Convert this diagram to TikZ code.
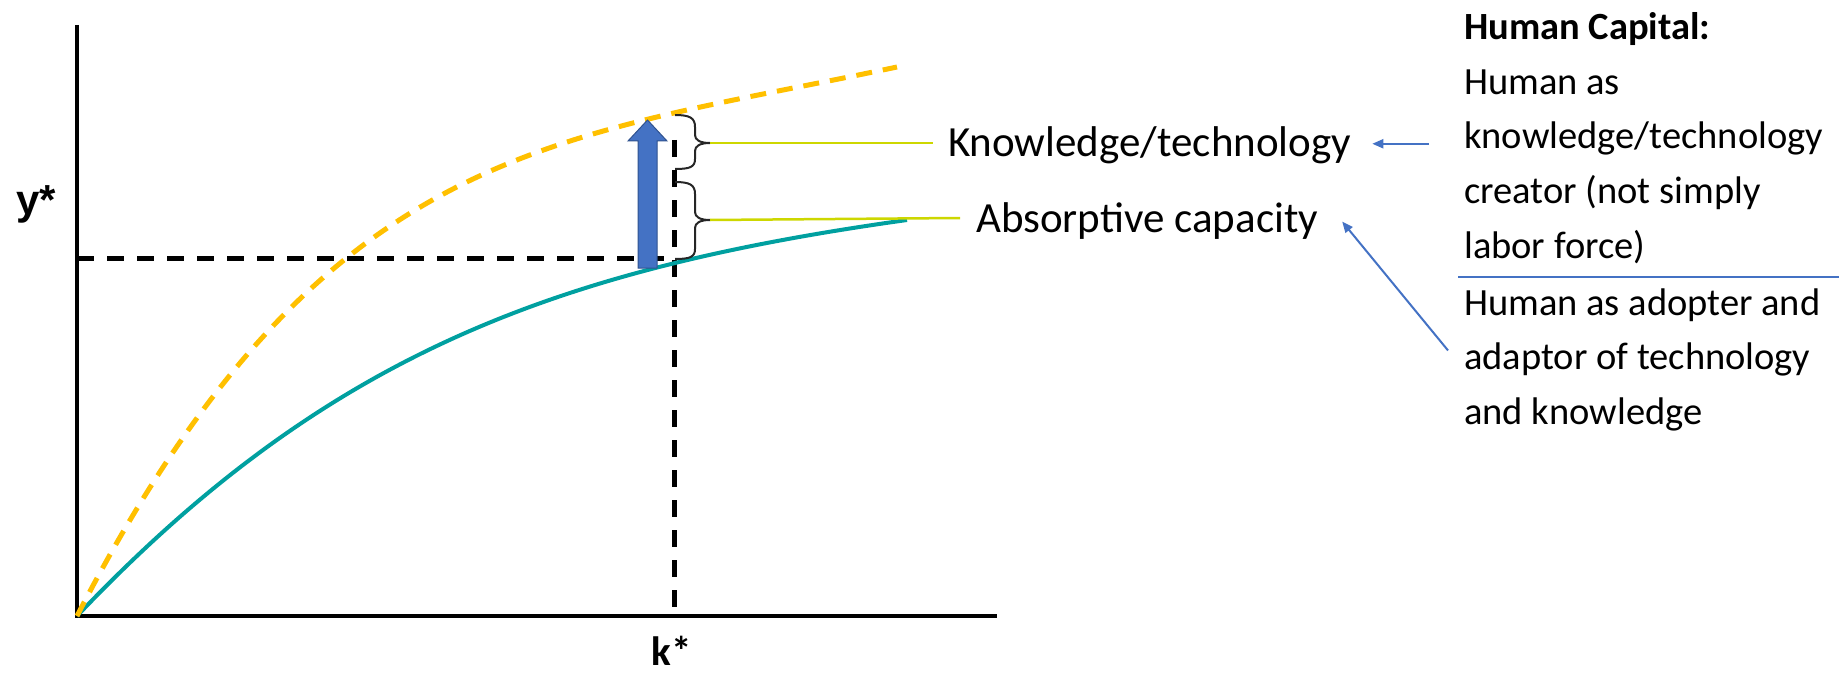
\documentclass[tikz,border=0pt]{standalone}
\usepackage{fontspec}
\setmainfont{Carlito}
\newfontfamily\lsans{Liberation Sans}
\usetikzlibrary{calc,arrows.meta}
\definecolor{tealcurve}{RGB}{0,160,160}
\definecolor{orangecurve}{RGB}{255,192,0}
\definecolor{blueac}{RGB}{68,114,196}
\definecolor{bluedark}{RGB}{47,82,143}
\definecolor{limeline}{RGB}{205,215,0}
\begin{document}
\begin{tikzpicture}[x=1pt,y=-1pt,
  axisline/.style={line width=4.5pt, black, line join=miter},
  guide/.style={line width=5pt, black, dash pattern=on 17pt off 13pt},
  basecurve/.style={line width=4pt, tealcurve},
  newcurve/.style={line width=5pt, orangecurve, dash pattern=on 16pt off 11pt},
  bracestyle/.style={line width=2pt, black!85},
  leader/.style={line width=2.5pt, limeline},
  thinarr/.style={line width=2pt, blueac, -{Triangle[length=11pt,width=9pt]}},
  blockarr/.style={fill=blueac, draw=bluedark, line width=1pt},
  midlabel/.style={font=\fontsize{43}{52}\selectfont, inner sep=0pt, anchor=base west},
  hclabel/.style={font=\fontsize{38.5}{46}\selectfont, inner sep=0pt, anchor=base west},
  axlabel/.style={inner sep=0pt, anchor=base}
]
\useasboundingbox (0,0) rectangle (1847,674);

% axes
\coordinate (ytop) at (77,25);
\coordinate (O) at (77,616);
\coordinate (xend) at (997,616);
\draw[axisline] (ytop) -- (O) -- (xend);

% equilibrium guides
\coordinate (yeq) at (77,258);
\coordinate (eq) at (672,258);
\coordinate (vtop) at (674,140);
\coordinate (kbase) at (674,616);
\draw[guide] (yeq) -- (eq);
\draw[guide] (vtop) -- (kbase);

% curves
\coordinate (tealend) at (907,220);
\coordinate (orangeend) at (897,67);
\draw[basecurve] (O) .. controls (327,353) and (557,269) .. (tealend);
\draw[newcurve] (O) .. controls (322,141) and (552,140) .. (orangeend);

% block arrow
\draw[blockarr] (638,268) -- (657,268) -- (657,141) -- (667,141) -- (647.5,120) -- (628,141) -- (638,141) -- cycle;

% braces
\coordinate (b1) at (710,143);
\coordinate (b2) at (710,220);
\draw[bracestyle] (675,115) .. controls (690,115) and (695,118) .. (695,127) -- (695,135)
  .. controls (695,140) and (700,143) .. (b1)
  .. controls (700,143) and (695,146) .. (695,151) -- (695,159)
  .. controls (695,167) and (690,169) .. (675,169);
\draw[bracestyle] (675,182) .. controls (690,182) and (695,185) .. (695,194) -- (695,212)
  .. controls (695,217) and (700,220) .. (b2)
  .. controls (700,220) and (695,223) .. (695,228) -- (695,249)
  .. controls (695,257) and (690,259) .. (675,259);

% axis labels
\node[axlabel, font=\lsans\bfseries\fontsize{42}{50}\selectfont] (ystar) at (36,214) {y*};
\node[axlabel, font=\bfseries\fontsize{41}{50}\selectfont] (kstar) at (672,665) {k*};

% middle labels
\node[midlabel] (kt) at (948,157) {Knowledge/technology};
\node[midlabel] (ac) at (976,232) {Absorptive capacity};

\draw[leader] (b1) -- ($(b1 -| kt.west)+(-15,0)$);
\draw[leader] (b2) -- ($(b2 -| ac.west)+(-16,-2)$);

% right block
\node[hclabel, font=\bfseries\fontsize{38.5}{46}\selectfont] (hc) at (1464,40) {Human Capital:};
\node[hclabel] (r2) at (1464,94.5) {Human as};
\node[hclabel] (r3) at (1464,149) {knowledge/technology};
\node[hclabel] (r4) at (1464,203.5) {creator (not simply};
\node[hclabel] (r5) at (1464,258) {labor force)};
\node[hclabel] (r6) at (1464,315) {Human as adopter and};
\node[hclabel] (r7) at (1464,369.5) {adaptor of technology};
\node[hclabel] (r8) at (1464,424) {and knowledge};

\coordinate (divL) at (1458,277);
\coordinate (divR) at (1839,277);
\draw[line width=2.5pt, blueac] (divL) -- (divR);

% connectors
\draw[thinarr] ($(r3.west |- kt.east)+(-35,-2)$) -- ($(kt.east)+(21,-2)$);
\draw[thinarr] ($(r7.west)+(-16,-9)$) -- ($(ac.east)+(24,1)$);
\end{tikzpicture}
\end{document}
